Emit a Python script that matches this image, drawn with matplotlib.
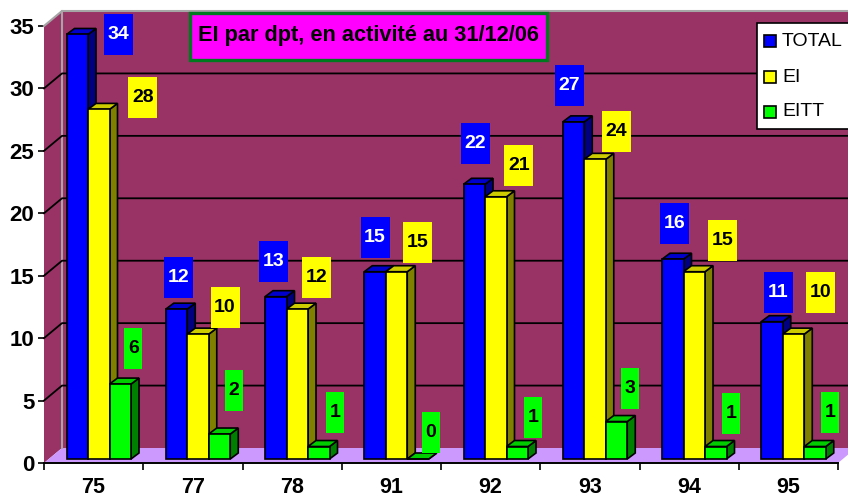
import matplotlib
matplotlib.use('Agg')
import matplotlib.pyplot as plt
from matplotlib.patches import Polygon, Rectangle

plt.rcParams['font.family'] = ['Liberation Sans', 'DejaVu Sans']

departments = ['75', '77', '78', '91', '92', '93', '94', '95']
total = [34, 12, 13, 15, 22, 27, 16, 11]
ei = [28, 10, 12, 15, 21, 24, 15, 10]
eitt = [6, 2, 1, 0, 1, 3, 1, 1]

# label box offset from the top of each bar, in pixels (right, up)
total_label_dx = [41, 2, -2, 0, 1, -4, 2, 6]
total_label_dy = [0, 32, 35, 34, 41, 36, 36, 29]
ei_label_dx = [44, 27, 19, 21, 23, 21, 28, 27]
ei_label_dy = [12, 27, 32, 29, 31, 28, 31, 42]
eitt_label_dx = [13, 14, 16, 13, 16, 13, 15, 15]
eitt_label_dy = [36, 44, 34, 27, 29, 33, 33, 34]

W, H = 848, 498
LEFT, RIGHT, TOP, BOTTOM = 44, 838, 26, 463
PX_X = (RIGHT - LEFT) / len(departments)
PX_Y = (BOTTOM - TOP) / 35

# depth of the wall and of the bars, in data units
WALL_DX, WALL_DY = 18 / PX_X, 15 / PX_Y
BAR_DX, BAR_DY = 8 / PX_X, 6 / PX_Y
BASE = 4 / PX_Y
BAR_W = 21.5 / PX_X
GROUP_START = 22.5 / PX_X

fig = plt.figure(figsize=(W / 100, H / 100), dpi=100)
ax = fig.add_axes([LEFT / W, 1 - BOTTOM / H, (RIGHT - LEFT) / W, (BOTTOM - TOP) / H])
ax.set_xlim(0, 8)
ax.set_ylim(0, 35)
ax.patch.set_visible(False)
for s in ['top', 'right', 'left']:
    ax.spines[s].set_visible(False)
ax.spines['bottom'].set_linewidth(1.4)

wall_color = '#993366'
n = len(departments)
ax.add_patch(Polygon([(0, 0), (WALL_DX, WALL_DY), (WALL_DX, 35 + WALL_DY), (0, 35)],
                     fc=wall_color, ec='none', clip_on=False, zorder=1))
ax.add_patch(Rectangle((WALL_DX, WALL_DY), n, 35, fc=wall_color, ec='none', clip_on=False, zorder=1))
ax.add_patch(Polygon([(0, 0), (n, 0), (n + WALL_DX, WALL_DY), (WALL_DX, WALL_DY)],
                     fc='#CC99FF', ec='none', clip_on=False, zorder=1.5))
ax.plot([0, WALL_DX, n + WALL_DX], [35, 35 + WALL_DY, 35 + WALL_DY],
        color='#a6a6a6', lw=1.5, clip_on=False, zorder=2)
ax.plot([WALL_DX, WALL_DX], [WALL_DY, 35 + WALL_DY], color='#a6a6a6', lw=1.5, clip_on=False, zorder=2)

for v in range(5, 35, 5):
    ax.plot([0, WALL_DX, n + WALL_DX], [v, v + WALL_DY, v + WALL_DY], color='black', lw=1.3,
            clip_on=False, zorder=2)


def draw_series(values, offset, front, side, top, dxs, dys, box_w, text_color):
    xs = [i + GROUP_START + offset * BAR_W for i in range(n)]
    ax.bar(xs, values, width=BAR_W, bottom=BASE, align='edge', color=front, edgecolor='black',
           linewidth=1.2, clip_on=False, zorder=3 + offset)
    for i, (x, v) in enumerate(zip(xs, values)):
        y = v + BASE
        ax.add_patch(Polygon([(x + BAR_W, BASE), (x + BAR_W + BAR_DX, BASE + BAR_DY),
                              (x + BAR_W + BAR_DX, y + BAR_DY), (x + BAR_W, y)],
                             fc=side, ec='black', lw=1.2, clip_on=False, zorder=2.9 + offset))
        ax.add_patch(Polygon([(x, y), (x + BAR_DX, y + BAR_DY), (x + BAR_W + BAR_DX, y + BAR_DY),
                              (x + BAR_W, y)],
                             fc=top, ec='black', lw=1.2, clip_on=False, zorder=2.9 + offset))
        cx = x + BAR_W / 2 + dxs[i] / PX_X
        cy = y + dys[i] / PX_Y
        ax.add_patch(Rectangle((cx - box_w / 2 / PX_X, cy - 20.5 / PX_Y), box_w / PX_X, 41 / PX_Y,
                               fc=front, ec='none', clip_on=False, zorder=8))
        ax.text(cx, cy, str(v), color=text_color, fontsize=14, fontweight='bold', ha='center',
                va='center', zorder=9)


draw_series(total, 0, '#0000FF', '#000080', '#0000CC', total_label_dx, total_label_dy, 29, 'white')
draw_series(ei, 1, '#FFFF00', '#808000', '#CCCC00', ei_label_dx, ei_label_dy, 29, 'black')
draw_series(eitt, 2, '#00FF00', '#008000', '#00CC00', eitt_label_dx, eitt_label_dy, 18, 'black')

ax.set_xticks(range(n + 1))
ax.set_xticklabels([])
ax.set_xticks([i + 0.5 for i in range(n)], minor=True)
ax.set_xticklabels(departments, minor=True, fontsize=15.5, fontweight='bold')
ax.tick_params(axis='x', which='minor', length=0, pad=10)
ax.tick_params(axis='x', which='major', length=5, width=1.2)
ax.set_yticks(range(0, 40, 5))
ax.tick_params(axis='y', length=4, width=1.2, labelsize=16, pad=3)
for lab in ax.get_yticklabels():
    lab.set_fontweight('bold')

# title box
fig.add_artist(Rectangle((189.5 / W, 1 - 60.5 / H), 357 / W, 47 / H, transform=fig.transFigure,
                         fc='#FF00FF', ec='#007A1F', lw=2.4, zorder=10))
fig.text(368 / W, 1 - 36 / H, 'EI par dpt, en activité au 31/12/06', fontsize=15.7, fontweight='bold',
         ha='center', va='center', color='black', zorder=11)

# legend box runs off the right edge of the picture
fig.add_artist(Rectangle((757 / W, 1 - 129 / H), 100 / W, 106 / H, transform=fig.transFigure,
                         fc='white', ec='black', lw=1.2, zorder=10))
legend_names = ['TOTAL', 'EI', 'EITT']
legend_colors = ['#0000FF', '#FFFF00', '#00FF00']
for name, c, py in zip(legend_names, legend_colors, [41, 77, 112]):
    fig.add_artist(Rectangle((764 / W, 1 - (py + 6) / H), 12 / W, 12 / H, transform=fig.transFigure,
                             fc=c, ec='black', lw=1.2, zorder=11))
    fig.text(782 / W, 1 - py / H, name, fontsize=14, ha='left', va='center', zorder=11)

fig.savefig('out.png', dpi=100)
